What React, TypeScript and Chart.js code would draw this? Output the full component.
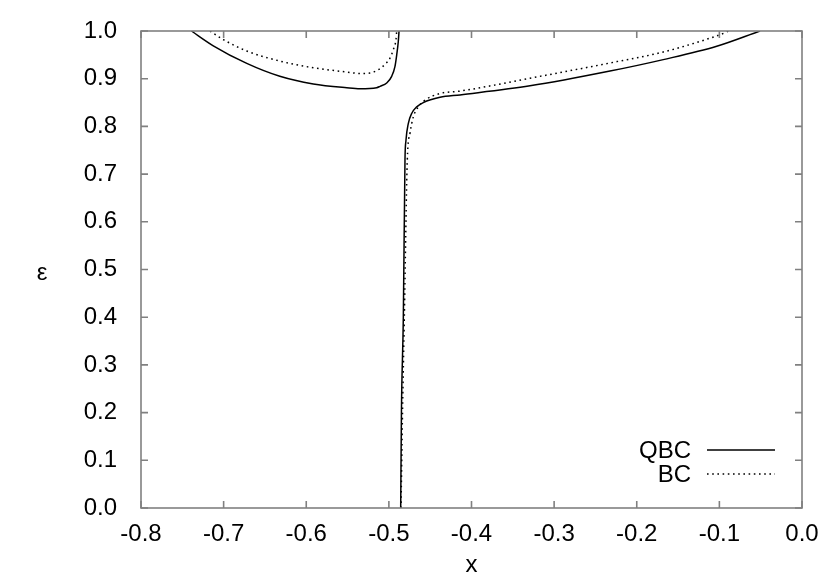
import React, { useEffect, useRef } from "react";
import { Chart, registerables } from "chart.js";

Chart.register(...registerables);

const FONT = '"Liberation Sans", Arial, Helvetica, sans-serif';

// Axis ticks
const xTickValues = [-0.8, -0.7, -0.6, -0.5, -0.4, -0.3, -0.2, -0.1, 0.0];
const yTickValues = [0.0, 0.1, 0.2, 0.3, 0.4, 0.5, 0.6, 0.7, 0.8, 0.9, 1.0];

// QBC (solid) – upper loop branch
const qbcUpperX = [-0.739, -0.7125, -0.672, -0.632, -0.5915, -0.551, -0.535, -0.5148, -0.5107, -0.5026, -0.4966, -0.4926, -0.4905, -0.4886, -0.4877];
const qbcUpperY = [1.0, 0.969, 0.932, 0.905, 0.889, 0.881, 0.879, 0.881, 0.884, 0.891, 0.905, 0.926, 0.95, 0.978, 1.0];

// QBC (solid) – lower branch
const qbcLowerX = [-0.4857, -0.4848, -0.4825, -0.4805, -0.4793, -0.4765, -0.4724, -0.4663, -0.4583, -0.4381, -0.4139, -0.3292, -0.2324, -0.1679, -0.1032, -0.0508];
const qbcLowerY = [0.0, 0.2, 0.4, 0.73, 0.771, 0.806, 0.827, 0.841, 0.85, 0.861, 0.866, 0.885, 0.916, 0.94, 0.968, 1.0];

// BC (dotted) – upper loop branch
const bcUpperX = [-0.7165, -0.7004, -0.672, -0.632, -0.5915, -0.551, -0.535, -0.5229, -0.5128, -0.5047, -0.4987, -0.4946, -0.4914, -0.4905];
const bcUpperY = [1.0, 0.982, 0.958, 0.937, 0.923, 0.914, 0.911, 0.912, 0.919, 0.93, 0.943, 0.961, 0.982, 1.0];

// BC (dotted) – lower branch
const bcLowerX = [-0.4853, -0.4835, -0.4813, -0.4777, -0.4744, -0.4704, -0.4643, -0.4563, -0.4381, -0.4139, -0.3292, -0.2324, -0.1679, -0.1113, -0.0912, -0.089];
const bcLowerY = [0.0, 0.2, 0.4, 0.73, 0.786, 0.82, 0.841, 0.855, 0.869, 0.874, 0.901, 0.933, 0.956, 0.985, 0.998, 1.0];

const seriesLabels = ["QBC", "BC"];
const xTitle = "x";
const yTitle = "ε";

const toPts = (xs: number[], ys: number[]) => xs.map((x, i) => ({ x, y: ys[i] }));

const fmt = (v: number) => (Math.abs(v) < 1e-9 ? "0.0" : Number(v).toFixed(1));

const FRAME = "#808080";
const DOT_DASH = [1.6, 3.6];
const FONT_SIZE = 24;

const framePlugin = {
  id: "gnuplotFrame",
  afterDatasetsDraw(chart: any) {
    const { ctx, chartArea } = chart;
    const { left, right, top, bottom } = chartArea;
    const xs = chart.scales.x;
    const ys = chart.scales.y;
    ctx.save();
    ctx.strokeStyle = FRAME;
    ctx.lineWidth = 1.6;
    ctx.strokeRect(left, top, right - left, bottom - top);
    const tl = 7;
    ctx.beginPath();
    xTickValues.forEach((v) => {
      const px = xs.getPixelForValue(v);
      ctx.moveTo(px, bottom);
      ctx.lineTo(px, bottom - tl);
      ctx.moveTo(px, top);
      ctx.lineTo(px, top + tl);
    });
    yTickValues.forEach((v) => {
      const py = ys.getPixelForValue(v);
      ctx.moveTo(left, py);
      ctx.lineTo(left + tl, py);
      ctx.moveTo(right, py);
      ctx.lineTo(right - tl, py);
    });
    ctx.stroke();

    // axis titles
    ctx.fillStyle = "#000";
    ctx.font = `${FONT_SIZE}px ${FONT}`;
    ctx.textAlign = "center";
    ctx.textBaseline = "middle";
    ctx.fillText(xTitle, (left + right) / 2, 565);
    ctx.fillText(yTitle, 42, 273);

    // legend
    const lx = right - 111;
    const rows = [
      { label: seriesLabels[0], dash: [] as number[], y: bottom - 58 },
      { label: seriesLabels[1], dash: DOT_DASH, y: bottom - 34 },
    ];
    rows.forEach((r) => {
      ctx.textAlign = "right";
      ctx.fillStyle = "#000";
      ctx.fillText(r.label, lx, r.y + 1);
      ctx.beginPath();
      ctx.setLineDash(r.dash);
      ctx.strokeStyle = "#000";
      ctx.lineWidth = 1.5;
      ctx.moveTo(lx + 16, r.y);
      ctx.lineTo(lx + 84, r.y);
      ctx.stroke();
    });
    ctx.setLineDash([]);
    ctx.restore();
  },
};

export default function App() {
  const ref = useRef<HTMLCanvasElement | null>(null);
  useEffect(() => {
    if (!ref.current) return;
    const common = {
      showLine: true,
      pointRadius: 0,
      pointHoverRadius: 0,
      borderColor: "#000",
      backgroundColor: "#000",
      borderWidth: 1.5,
      cubicInterpolationMode: "monotone" as const,
      fill: false,
    };
    const chart = new Chart(ref.current, {
      type: "scatter",
      data: {
        datasets: [
          { ...common, label: seriesLabels[0], data: toPts(qbcUpperX, qbcUpperY) },
          { ...common, label: seriesLabels[0], data: toPts(qbcLowerX, qbcLowerY) },
          { ...common, label: seriesLabels[1], data: toPts(bcUpperX, bcUpperY), borderDash: DOT_DASH },
          { ...common, label: seriesLabels[1], data: toPts(bcLowerX, bcLowerY), borderDash: DOT_DASH },
        ],
      },
      options: {
        responsive: false,
        animation: false,
        devicePixelRatio: 1,
        layout: { padding: { left: 0, top: 31, right: 35, bottom: 0 } },
        plugins: { legend: { display: false }, tooltip: { enabled: false } },
        scales: {
          x: {
            type: "linear",
            min: -0.8,
            max: 0,
            afterFit: (s: any) => {
              s.height = 70;
            },
            afterBuildTicks: (s: any) => {
              s.ticks = xTickValues.map((v) => ({ value: v }));
            },
            grid: { display: false },
            border: { display: false },
            ticks: {
              color: "#000",
              font: { family: FONT, size: FONT_SIZE },
              padding: 4,
              maxRotation: 0,
              autoSkip: false,
              callback: (v: any) => fmt(Number(v)),
            },
          },
          y: {
            type: "linear",
            min: 0,
            max: 1,
            afterFit: (s: any) => {
              s.width = 141;
            },
            afterBuildTicks: (s: any) => {
              s.ticks = yTickValues.map((v) => ({ value: v }));
            },
            grid: { display: false },
            border: { display: false },
            ticks: {
              color: "#000",
              font: { family: FONT, size: FONT_SIZE },
              padding: 16,
              autoSkip: false,
              callback: (v: any) => fmt(Number(v)),
            },
          },
        },
      },
      plugins: [framePlugin],
    });
    return () => chart.destroy();
  }, []);
  return (
    <div style={{ position: "fixed", left: 0, top: 0, width: 837, height: 578, background: "#fff" }}>
      <canvas ref={ref} width={837} height={578} style={{ width: 837, height: 578, display: "block" }} />
    </div>
  );
}
